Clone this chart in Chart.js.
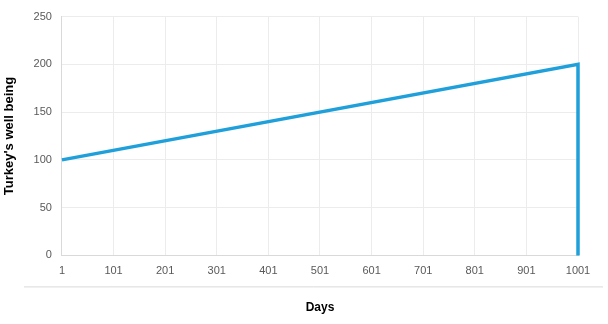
<!DOCTYPE html>
<html><head><meta charset="utf-8">
<script src="https://cdn.jsdelivr.net/npm/chart.js@4/dist/chart.umd.min.js"></script>
<style>html,body{margin:0;padding:0;background:#fff}#wrap{width:608px;height:324px}</style>
</head><body><div id="wrap"><canvas id="c" width="608" height="324"></canvas></div>
<script>
const days = [1, 1001, 1001];
const wellBeing = [100, 200, 0];
const xTickLabels = [1, 101, 201, 301, 401, 501, 601, 701, 801, 901, 1001];
const yTickLabels = [0, 50, 100, 150, 200, 250];

const sepPlugin = {
  id: 'sep',
  afterDraw(chart) {
    const ctx = chart.ctx, a = chart.chartArea;
    ctx.save();
    ctx.strokeStyle = '#d9d9d9';
    ctx.lineWidth = 1;
    ctx.beginPath();
    ctx.moveTo(24, a.bottom + 31.5);
    ctx.lineTo(603, a.bottom + 31.5);
    ctx.stroke();
    ctx.restore();
  }
};

new Chart(document.getElementById('c'), {
  type: 'line',
  data: {
    datasets: [{
      data: days.map((d, i) => ({x: d, y: wellBeing[i]})),
      borderColor: '#1fa0da',
      borderWidth: 3.5,
      pointRadius: 0,
      fill: false,
      tension: 0,
      clip: false,
      borderJoinStyle: 'miter',
      borderCapStyle: 'butt'
    }]
  },
  options: {
    responsive: false,
    animation: false,
    layout: {padding: {left: 2, right: 30, top: 1, bottom: 9}},
    plugins: {legend: {display: false}, tooltip: {enabled: false}},
    scales: {
      x: {
        type: 'linear',
        min: 1, max: 1001,
        afterBuildTicks(scale) { scale.ticks = xTickLabels.map(v => ({value: v})); },
        grid: {color: '#ececec', drawTicks: false},
        border: {color: '#d9d9d9'},
        ticks: {color: '#595959', font: {family: 'Liberation Sans', size: 11}, padding: 9, maxRotation: 0, autoSkip: false,
                callback: v => String(v)},
        title: {display: true, text: 'Days', color: '#000', font: {family: 'Liberation Sans', size: 12, weight: 'bold'}, padding: {top: 14, bottom: 0}}
      },
      y: {
        min: 0, max: 250,
        afterBuildTicks(scale) { scale.ticks = yTickLabels.map(v => ({value: v})); },
        grid: {color: '#ececec', drawTicks: false},
        border: {color: '#d9d9d9'},
        ticks: {color: '#595959', font: {family: 'Liberation Sans', size: 11}, padding: 10},
        title: {display: true, text: "Turkey's well being", color: '#000', font: {family: 'Liberation Sans', size: 13, weight: 'bold'}, padding: {top: 0, bottom: 6}}
      }
    }
  },
  plugins: [sepPlugin]
});
</script></body></html>
